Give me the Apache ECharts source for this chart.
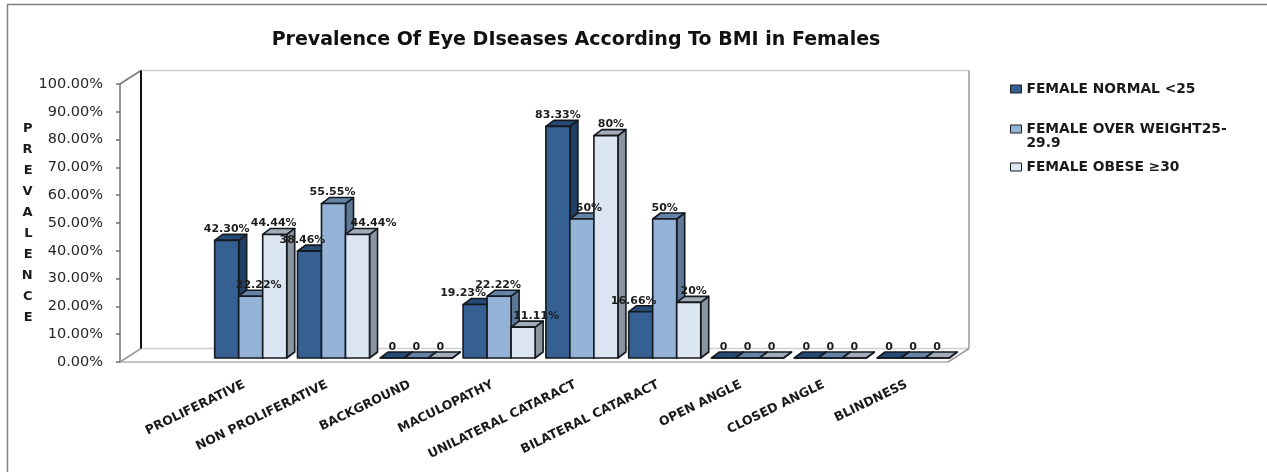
<!DOCTYPE html>
<html>
<head>
<meta charset="utf-8">
<style>
  html, body { margin: 0; padding: 0; background: #fff; }
  #chart { width: 1267px; height: 472px; }
</style>
<script src="https://cdn.jsdelivr.net/npm/echarts@6/dist/echarts.min.js"></script>
</head>
<body>
<div id="chart"></div>
<script>
// Category axis: the first band is left empty, as the chart starts its bars in the second band.
const categories = ['', 'PROLIFERATIVE', 'NON PROLIFERATIVE', 'BACKGROUND', 'MACULOPATHY',
  'UNILATERAL CATARACT', 'BILATERAL CATARACT', 'OPEN ANGLE', 'CLOSED ANGLE', 'BLINDNESS'];

const seriesNames = ['FEMALE NORMAL <25', 'FEMALE OVER WEIGHT25-29.9', 'FEMALE OBESE \u226530'];

// Prevalence in percent, one entry per category.
const normalValues = [null, 42.30, 38.46, 0, 19.23, 83.33, 16.66, 0, 0, 0];
const overweightValues = [null, 22.22, 55.55, 0, 22.22, 50, 50, 0, 0, 0];
const obeseValues = [null, 44.44, 44.44, 0, 11.11, 80, 20, 0, 0, 0];

// Value labels as printed above each bar.
const normalLabels = ['', '42.30%', '38.46%', '0', '19.23%', '83.33%', '16.66%', '0', '0', '0'];
const overweightLabels = ['', '22.22%', '55.55%', '0', '22.22%', '50%', '50%', '0', '0', '0'];
const obeseLabels = ['', '44.44%', '44.44%', '0', '11.11%', '80%', '20%', '0', '0', '0'];

// Sideways nudges that keep neighbouring value labels apart.
const normalNudge = [0, 0, -7, 0, -12, 0, -7, 0, 0, 0];
const overweightNudge = [0, 8, -1, 0, -1, 7, 0, 0, 0, 0];
const obeseNudge = [0, -1, 16, 0, 13, 5, 5, 0, 0, 0];

const yTicks = { min: 0, max: 100, interval: 10 };

// Pseudo-3D geometry, in pixels.
const WALL_DX = 21, WALL_DY = -13.5;   // depth of the chart box
const BAR_DX = 8, BAR_DY = -6;         // depth of one bar
const BAR_SHIFT_X = 6.5, BAR_SHIFT_Y = -4; // bars stand in the middle of the floor
const BAR_RATIO = 0.29;                // bar width as a share of the band

const palette = [
  { front: '#376092', top: '#254a75', side: '#213f63' },
  { front: '#95b3d7', top: '#6683a8', side: '#5d7796' },
  { front: '#dce6f2', top: '#a3adba', side: '#8a95a1' }
];
const EDGE = '#14181f';

function barRenderer(slot, labels, nudges) {
  return function (params, api) {
    const i = api.value(0);
    const v = api.value(1);
    if (isNaN(v)) return null;
    const c = palette[slot];
    const band = api.size([1, 0])[0];
    const w = band * BAR_RATIO;
    const base = api.coord([i, 0]);
    const top = api.coord([i, v]);
    const x0 = base[0] + BAR_SHIFT_X + (slot - 1.5) * w;
    const x1 = x0 + w;
    const yb = base[1] + BAR_SHIFT_Y;
    const yt = top[1] + BAR_SHIFT_Y;
    const line = { stroke: EDGE, lineWidth: 1.6, lineJoin: 'round' };
    const poly = (points, fill, z2) => ({
      type: 'polygon', z2: z2, shape: { points: points }, style: Object.assign({ fill: fill }, line)
    });
    return {
      type: 'group',
      children: [
        poly([[x1, yb], [x1 + BAR_DX, yb + BAR_DY], [x1 + BAR_DX, yt + BAR_DY], [x1, yt]], c.side, 1),
        poly([[x0, yt], [x0 + BAR_DX, yt + BAR_DY], [x1 + BAR_DX, yt + BAR_DY], [x1, yt]], c.top, 1),
        poly([[x0, yb], [x1, yb], [x1, yt], [x0, yt]], c.front, 1),
        {
          type: 'text', z2: 100,
          style: {
            text: labels[i],
            x: x0 + w / 2 + nudges[i],
            y: yt - 11,
            align: 'center',
            verticalAlign: 'middle',
            font: 'bold 11px "DejaVu Sans"',
            fill: '#1c1c1c'
          }
        }
      ]
    };
  };
}

// Side walls and floor of the chart box, derived from the plotting rectangle.
function boxRenderer(params, api) {
  const g = params.coordSys;
  const L = g.x, R = g.x + g.width, T = g.y, B = g.y + g.height;
  const seg = (x1, y1, x2, y2, stroke, width) => ({
    type: 'line', z2: 0, shape: { x1, y1, x2, y2 }, style: { stroke, lineWidth: width }
  });
  const light = '#cfcfcf', mid = '#9a9a9a';
  return {
    type: 'group',
    children: [
      seg(L + WALL_DX, T + WALL_DY, R + WALL_DX, T + WALL_DY, light, 1.5),
      seg(R + WALL_DX, T + WALL_DY, R + WALL_DX, B + WALL_DY, mid, 1.5),
      seg(L + WALL_DX, B + WALL_DY, R + WALL_DX, B + WALL_DY, light, 1.5),
      seg(L, B, L + WALL_DX, B + WALL_DY, mid, 1.5),
      seg(R, B, R + WALL_DX, B + WALL_DY, mid, 1.5),
      seg(L, T, L + WALL_DX, T + WALL_DY, '#777777', 1.5),
      seg(L + WALL_DX, T + WALL_DY, L + WALL_DX, B + WALL_DY, '#111111', 2)
    ]
  };
}

function toPairs(values) {
  return values.map((v, i) => [i, v]);
}

function barSeries(slot, values, labels, nudges) {
  return {
    type: 'custom',
    name: seriesNames[slot],
    renderItem: barRenderer(slot, labels, nudges),
    encode: { x: 0, y: 1 },
    data: toPairs(values),
    itemStyle: { color: palette[slot].front },
    clip: false,
    silent: true
  };
}

function legendAt(name, top, text) {
  return {
    data: [name],
    left: 1010,
    top: top,
    icon: 'rect',
    itemWidth: 11,
    itemHeight: 8,
    itemGap: 0,
    padding: 0,
    selectedMode: false,
    itemStyle: { borderColor: '#1a1a1a', borderWidth: 1 },
    formatter: () => text,
    textStyle: {
      fontFamily: 'DejaVu Sans', fontWeight: 'bold', fontSize: 13.8, color: '#1a1a1a',
      lineHeight: 14
    }
  };
}

const chart = echarts.init(document.getElementById('chart'), null, { renderer: 'canvas' });
chart.setOption({
  animation: false,
  backgroundColor: '#ffffff',
  title: {
    text: 'Prevalence Of Eye DIseases According To BMI in Females',
    left: 571, top: 26, textAlign: 'center',
    textStyle: { fontFamily: 'DejaVu Sans', fontWeight: 'bold', fontSize: 19, color: '#111111' }
  },
  graphic: [{
    type: 'rect', silent: true, z: -1,
    shape: { x: 7.5, y: 4.5, width: 1300, height: 500 },
    style: { fill: 'none', stroke: '#808080', lineWidth: 1.5 }
  }],
  legend: [
    legendAt(seriesNames[0], 82, 'FEMALE NORMAL <25'),
    legendAt(seriesNames[1], 108, '\nFEMALE OVER WEIGHT25-\n29.9'),
    legendAt(seriesNames[2], 160, 'FEMALE OBESE \u226530')
  ],
  grid: { left: 120, right: 319, top: 84, height: 278, containLabel: false },
  xAxis: {
    type: 'category',
    data: categories,
    boundaryGap: true,
    axisLine: { lineStyle: { color: '#b0b0b0', width: 1.5 } },
    axisTick: { alignWithLabel: false, length: 4, lineStyle: { color: '#909090', width: 1.5 } },
    axisLabel: {
      interval: 0, rotate: 26, margin: 22,
      fontFamily: 'DejaVu Sans', fontWeight: 'bold', fontSize: 12.5, color: '#1a1a1a'
    }
  },
  yAxis: {
    type: 'value',
    min: yTicks.min, max: yTicks.max, interval: yTicks.interval,
    name: 'P\nR\nE\nV\nA\nL\nE\nN\nC\nE',
    nameLocation: 'middle',
    nameRotate: 0,
    nameGap: 86,
    nameTextStyle: { fontFamily: 'DejaVu Sans', fontWeight: 'bold', fontSize: 13, lineHeight: 21, color: '#1a1a1a' },
    splitLine: { show: false },
    axisLine: { show: true, lineStyle: { color: '#707070', width: 1.5 } },
    axisTick: { show: true, length: 4, lineStyle: { color: '#707070', width: 1.5 } },
    axisLabel: {
      margin: 17,
      formatter: v => v.toFixed(2) + '%',
      fontFamily: 'DejaVu Sans', fontSize: 14.5, color: '#262626'
    }
  },
  series: [
    {
      type: 'custom', name: 'box', silent: true, clip: false,
      renderItem: boxRenderer, encode: { x: 0, y: 1 }, data: [[0, 0]]
    },
    barSeries(0, normalValues, normalLabels, normalNudge),
    barSeries(1, overweightValues, overweightLabels, overweightNudge),
    barSeries(2, obeseValues, obeseLabels, obeseNudge)
  ]
});
</script>
</body>
</html>
